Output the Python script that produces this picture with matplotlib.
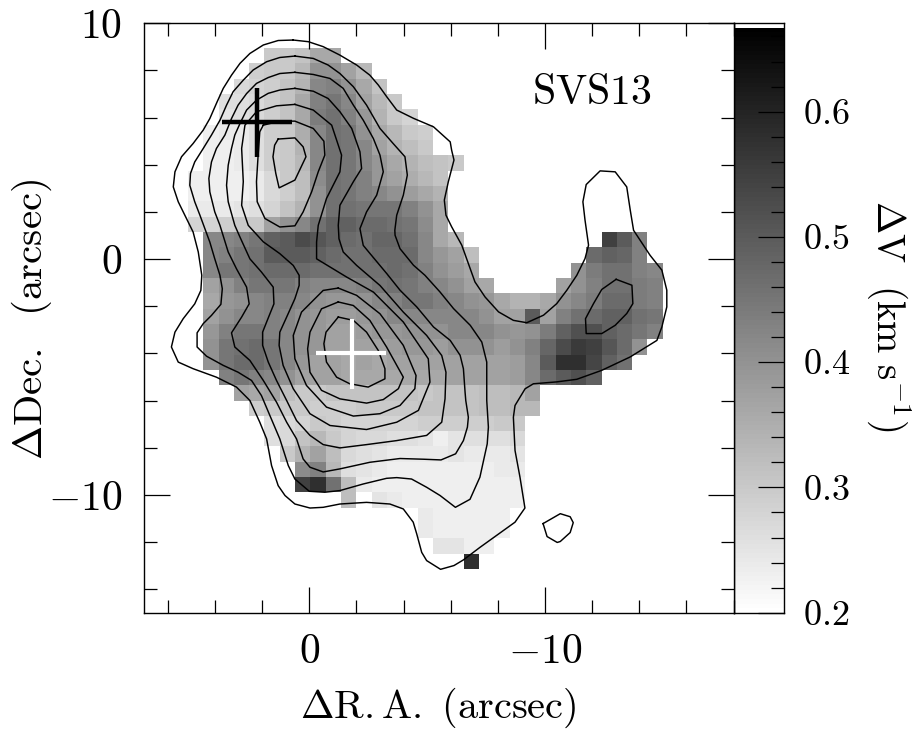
import numpy as np
import matplotlib
matplotlib.use("Agg")
import matplotlib.pyplot as plt
from matplotlib.ticker import MultipleLocator, FixedLocator, FuncFormatter

plt.rcParams['mathtext.fontset'] = 'cm'
plt.rcParams['font.family'] = ['cmr10', 'DejaVu Sans']
plt.rcParams['axes.formatter.use_mathtext'] = True

# Line width map: dV in hundredths of km/s, 0 = no data. (first column, values)
RA_FIRST_EDGE = 5.15
DEC_FIRST_EDGE = 8.95
CELL = 0.65
N_COLS = 31
dv_rows = [
    (5, [30,30,31,36,36]),
    (4, [29,30,30,33,40,40,37,33]),
    (3, [27,28,29,31,34,42,43,40,36,31]),
    (2, [26,26,27,29,31,36,43,45,42,37,33,30]),
    (2, [25,26,27,29,31,36,44,46,43,39,34,30,28]),
    (1, [23,24,24,26,29,30,35,42,46,45,40,36,33,30,29]),
    (1, [23,23,24,26,29,30,34,42,46,45,42,37,34,32,30]),
    (1, [23,23,24,26,29,30,33,42,46,45,42,39,36,34,32,31,30]),
    (0, [23,23,23,23,24,27,30,32,41,46,45,43,39,37,35,33,31]),
    (0, [23,23,23,23,24,27,29,32,40,46,45,43,42,40,38,36,34]),
    (0, [24,24,24,25,26,28,31,34,40,46,46,45,45,45,43,40,36]),
    (0, [28,28,29,30,30,37,40,42,46,49,49,47,47,46,45,41,36]),
    (1, [42,42,43,45,49,50,53,51,49,47,46,48,48,46,42,36,33,0,0,0,0,0,0,0,0,0,55,50,43]),
    (1, [42,43,45,46,50,50,50,49,47,46,46,47,47,47,42,39,37,32,0,0,0,0,0,0,0,47,49,48,43]),
    (1, [42,45,45,46,47,47,47,46,46,46,46,46,47,46,43,40,38,36,0,0,0,0,0,0,40,44,46,46,43,42]),
    (1, [37,40,43,45,45,45,43,42,42,42,43,45,46,45,43,42,40,37,36,0,0,0,0,37,40,43,46,46,44,43]),
    (1, [36,39,40,42,43,43,42,40,39,39,40,42,43,45,45,43,42,40,39,36,34,34,36,40,42,44,47,47,44,43]),
    (1, [37,40,42,42,43,42,40,39,38,38,39,40,42,42,42,42,42,42,40,37,37,50,37,43,46,47,49,49,46,45]),
    (1, [39,43,45,45,43,42,40,39,37,37,38,39,39,40,40,40,42,42,42,40,39,40,44,49,52,52,49,47,45,43]),
    (1, [40,45,46,47,45,42,40,39,37,37,37,37,38,39,39,38,40,40,40,38,40,43,48,53,56,55,51,47,40]),
    (1, [40,45,47,47,45,42,39,37,37,36,37,36,37,37,37,37,37,37,37,37,38,42,50,58,58,54,49,46]),
    (2, [43,45,43,42,40,37,37,37,36,36,36,36,36,36,36,37,37,37,37,38,42,47,50,52,49]),
    (3, [37,36,37,32,30,30,31,31,31,31,31,31,30,31,31,31,32,32,33,37]),
    (4, [29,30,30,30,29,29,29,30,30,30,30,31,31,31,31,32,32,33,33]),
    (5, [26,27,28,30,29,28,28,28,28,28,29,29,29,29,29,30,30]),
    (5, [26,27,31,33,30,28,27,27,26,26,25,23,25,26,26,26,27]),
    (6, [30,34,37,32,27,26,25,24,24,24,24,25,24,24,24,25]),
    (7, [41,43,33,26,25,24,23,23,23,23,23,23,23,24,24]),
    (7, [55,58,46,32,24,23,23,23,23,23,23,23,23,23,23]),
    (10, [32,0,25,24,23,23,23,23,23,23,23,23]),
    (15, [24,23,23,23,23,23]),
    (15, [24,23,23,23,23,23]),
    (16, [25,25,23,23]),
    (18, [58]),
]

contour_a_ra = [0.68,1.32,1.95,2.52,2.94,3.30,3.65,3.91,4.22,4.50,4.93,5.42,5.70,5.77,5.56,5.28,4.93,4.71,4.56,4.60,4.86,5.35,5.70,5.85,5.56,4.93,3.94,3.09,2.52,2.10,1.81,1.60,1.32,1.03,0.61,-0.03,-0.59,-1.30,-2.43,-3.42,-3.99,-4.41,-4.56,-4.77,-4.98,-5.57,-6.14,-6.54,-7.24,-8.73,-9.15,-8.94,-8.73,-8.66,-8.73,-9.16,-9.51,-10.50,-11.35,-12.41,-13.62,-14.75,-14.96,-15.17,-15.17,-14.96,-14.46,-13.76,-13.62,-13.47,-12.98,-12.34,-11.75,-11.61,-11.70,-11.85,-11.70,-11.35,-10.93,-10.50,-9.94,-9.23,-8.66,-8.03,-7.46,-7.03,-6.75,-6.47,-6.04,-5.80,-5.73,-5.90,-6.14,-6.04,-5.98,-5.27,-4.42,-3.71,-3.29,-2.93,-2.57,-2.01,-1.30,-0.59,0.04]
contour_a_dec = [9.29,9.27,9.08,8.72,8.30,7.80,7.24,6.67,5.96,5.47,4.90,4.34,3.70,3.06,2.43,1.86,1.15,0.30,-0.69,-1.33,-1.90,-2.53,-3.10,-3.73,-4.37,-4.65,-5.01,-5.43,-6.00,-6.92,-7.63,-8.76,-9.61,-10.03,-10.39,-10.56,-10.53,-10.39,-10.32,-10.39,-10.60,-11.16,-11.66,-12.44,-12.79,-13.16,-13.00,-12.76,-12.23,-11.16,-10.56,-9.25,-8.12,-6.71,-6.21,-5.50,-5.29,-5.21,-5.10,-4.72,-4.15,-3.45,-2.88,-2.03,-1.32,-0.47,0.16,1.22,2.07,3.06,3.70,3.74,3.16,2.43,1.65,0.59,0.02,-0.69,-1.32,-1.89,-2.38,-2.70,-2.60,-2.24,-1.61,-0.97,-0.19,0.59,1.37,1.86,2.50,3.28,4.20,4.62,4.97,5.61,5.97,6.32,6.88,7.38,7.80,8.23,8.65,9.01,9.22]

contour_b_ra = [-9.92,-10.65,-11.07,-11.20,-11.07,-10.65,-10.52,-10.09]
contour_b_dec = [-11.22,-10.80,-10.93,-11.18,-11.60,-11.98,-12.02,-11.77]

contour_c_ra = [-13.02,-13.69,-13.73,-13.47,-12.98,-12.41,-11.75,-11.72,-12.06,-12.41]
contour_c_dec = [-0.86,-1.11,-1.89,-2.31,-2.81,-3.16,-3.16,-2.53,-1.89,-1.29]

contour_d_ra = [0.61,1.25,1.81,2.38,2.80,3.23,3.51,3.79,4.15,4.50,4.86,5.04,5.07,4.86,4.64,4.43,4.22,4.01,3.79,3.69,3.75,4.15,4.50,4.76,4.76,4.36,3.65,3.02,2.45,2.03,1.67,1.25,0.89,0.61,0.0,-0.66,-1.30,-2.29,-3.28,-3.71,-4.34,-4.98,-5.55,-6.20,-6.82,-7.24,-7.55,-7.60,-7.53,-7.53,-7.32,-6.83,-6.12,-5.55,-4.91,-4.42,-3.85,-3.64,-3.63,-3.71,-3.99,-4.16,-4.06,-3.56,-3.00,-2.43,-1.87,-1.30,-0.80,-0.17]
contour_d_dec = [8.61,8.55,8.37,8.02,7.59,7.10,6.53,5.89,5.26,4.69,4.12,3.63,3.13,2.43,1.86,1.29,0.72,0.01,-0.69,-1.26,-1.92,-2.39,-2.74,-3.13,-3.73,-4.12,-4.51,-4.80,-5.15,-5.79,-6.64,-7.63,-8.76,-9.33,-9.85,-9.89,-9.82,-9.54,-9.30,-9.27,-9.33,-9.68,-10.03,-10.53,-10.19,-9.25,-7.84,-7.13,-6.00,-4.37,-3.52,-2.81,-2.10,-1.40,-0.69,-0.26,0.44,1.01,1.22,1.86,2.71,3.56,4.34,4.90,5.54,6.53,7.31,7.87,8.23,8.51]

contour_e_ra = [0.61,1.25,1.74,2.24,2.66,3.02,3.30,3.58,3.94,4.15,4.26,4.22,4.01,3.79,3.44,3.09,2.66,2.55,2.87,3.30,3.16,2.52,1.95,1.39,0.96,0.54,0.26,-0.03,-0.59,-1.30,-2.57,-3.85,-4.84,-5.59,-6.21,-6.54,-6.71,-6.75,-6.64,-6.61,-6.54,-6.40,-5.98,-5.27,-4.56,-3.85,-3.29,-2.58,-2.29,-2.15,-2.43,-2.86,-3.14,-3.00,-2.72,-2.29,-1.87,-1.44,-0.88,-0.17]
contour_e_dec = [7.92,7.87,7.70,7.45,7.02,6.53,5.96,5.26,4.69,4.12,3.42,2.85,2.00,1.43,0.30,-0.41,-1.19,-1.90,-2.46,-3.13,-3.73,-4.30,-5.15,-6.07,-6.92,-7.63,-8.48,-8.83,-9.03,-8.90,-8.62,-8.46,-8.49,-8.52,-8.26,-7.70,-7.13,-6.71,-6.00,-5.64,-4.65,-4.08,-3.45,-2.88,-2.03,-1.32,-0.62,0.23,0.58,1.29,2.00,2.71,3.70,4.41,5.11,5.89,6.53,7.24,7.66,7.83]

contour_f_ra = [0.61,1.25,1.74,2.24,2.66,2.94,3.16,3.30,3.44,3.51,3.44,3.16,2.94,2.52,2.03,1.53,1.50,1.81,1.98,1.98,1.74,1.39,0.96,0.54,-0.03,-0.59,-1.30,-2.43,-3.71,-4.98,-5.62,-5.76,-5.80,-5.62,-4.98,-3.99,-3.00,-2.01,-1.44,-1.26,-1.23,-1.30,-1.87,-2.22,-2.15,-1.80,-1.30,-0.80,-0.17]
contour_f_dec = [7.24,7.17,7.03,6.74,6.32,5.75,5.26,4.69,3.98,3.13,2.43,1.43,0.93,0.01,-0.55,-1.19,-1.90,-2.67,-3.10,-3.66,-4.37,-5.15,-6.00,-6.85,-7.48,-7.87,-8.01,-7.87,-7.70,-7.48,-6.92,-5.93,-4.80,-4.09,-3.24,-2.25,-1.12,-0.27,0.30,0.86,1.43,2.28,3.28,3.84,4.55,5.54,6.25,6.81,7.12]

contour_g_ra = [0.61,1.39,2.24,2.73,2.87,2.80,2.87,2.59,1.95,1.25,0.68,0.43,0.43,0.61,0.96,1.25,1.28,1.11,0.68,-0.03,-0.88,-2.43,-3.71,-4.63,-5.12,-5.05,-3.99,-2.72,-1.58,-0.31,-0.31,-0.38,-0.73,-1.30,-1.37,-0.95,-0.17]
contour_g_dec = [6.56,6.50,6.25,5.68,4.69,3.28,2.28,1.43,0.73,0.23,-0.27,-0.69,-1.12,-1.68,-2.46,-3.10,-3.66,-4.51,-5.50,-6.56,-7.06,-7.23,-6.92,-6.42,-5.22,-4.23,-2.67,-1.40,-0.76,0.01,0.72,1.43,2.57,3.70,4.41,5.68,6.32]

contour_h_ra = [-1.23,-2.01,-3.00,-3.99,-4.53,-4.48,-3.85,-3.00,-1.87,-0.73,0.12,0.61,0.68,0.33,-0.59]
contour_h_dec = [-1.23,-1.54,-2.32,-3.66,-4.94,-5.50,-6.21,-6.56,-6.66,-6.28,-5.36,-4.23,-3.24,-2.25,-1.33]

contour_i_ra = [-1.23,-1.87,-2.57,-3.28,-3.99,-3.78,-3.14,-2.43,-1.30,-0.52,-0.03,0.07,-0.03,-0.52]
contour_i_dec = [-1.82,-1.97,-2.60,-3.73,-5.01,-5.50,-5.96,-6.11,-5.93,-5.57,-4.80,-3.81,-3.10,-2.11]

contour_j_ra = [-1.23,-1.87,-2.43,-2.93,-3.21,-3.21,-2.50,-1.72,-1.16,-0.73,-0.62,-0.71]
contour_j_dec = [-2.46,-2.60,-3.10,-3.88,-4.65,-5.08,-5.43,-5.29,-5.01,-4.37,-3.59,-3.10]

contour_k_ra = [1.95,1.25,0.61,-0.17,-0.62,-0.66,-0.38,-0.10,0.26,0.61,1.25,1.88,2.21,2.24,2.17,2.10]
contour_k_dec = [5.68,5.85,5.85,5.54,5.00,4.41,3.70,2.85,2.00,1.41,1.36,1.72,2.43,3.28,4.41,5.40]

contour_l_ra = [1.32,0.61,0.26,0.14,0.61,1.28,1.42,1.54,1.47]
contour_l_dec = [5.09,5.14,4.76,4.34,3.35,3.02,3.63,4.34,4.83]

contours = [
    (contour_a_ra, contour_a_dec), (contour_b_ra, contour_b_dec),
    (contour_c_ra, contour_c_dec), (contour_d_ra, contour_d_dec),
    (contour_e_ra, contour_e_dec), (contour_f_ra, contour_f_dec),
    (contour_g_ra, contour_g_dec), (contour_h_ra, contour_h_dec),
    (contour_i_ra, contour_i_dec), (contour_j_ra, contour_j_dec),
    (contour_k_ra, contour_k_dec), (contour_l_ra, contour_l_dec),
]

# Crosses: (RA min, RA max), (Dec min, Dec max), centre
black_cross_ra = [3.69, 0.75]
black_cross_dec = [7.24, 4.31]
black_cross_centre = (2.20, 5.82)
white_cross_ra = [-0.28, -3.25]
white_cross_dec = [-2.56, -5.50]
white_cross_centre = (-1.82, -3.99)

x_major = [0, -10]
y_major = [-10, 0, 10]
cbar_labels = [0.2, 0.3, 0.4, 0.5, 0.6]
VMIN, VMAX = 0.2, 0.667

W, H = 921, 734
fig = plt.figure(figsize=(W / 100, H / 100), dpi=100)


def frac(l, t, r, b):
    return [l / W, 1 - b / H, (r - l) / W, (b - t) / H]


ax = fig.add_axes(frac(144.3, 23.3, 733.5, 612.7))
cax = fig.add_axes(frac(733.5, 23.3, 784.0, 612.7))

# image
grid = np.full((len(dv_rows), N_COLS), np.nan)
for r, (start, vals) in enumerate(dv_rows):
    for c, v in enumerate(vals):
        if v:
            grid[r, start + c] = v / 100.0
masked = np.ma.masked_invalid(grid)
ra_edges = RA_FIRST_EDGE - CELL * np.arange(N_COLS + 1)
dec_edges = DEC_FIRST_EDGE - CELL * np.arange(len(dv_rows) + 1)
ax.pcolormesh(ra_edges, dec_edges, masked, cmap='gray_r', vmin=VMIN, vmax=VMAX,
              shading='flat', linewidth=0, rasterized=True, zorder=1)

for ra, dec in contours:
    ax.plot(ra + ra[:1], dec + dec[:1], color='black', lw=1.05, zorder=3,
            solid_joinstyle='round')

ax.plot(black_cross_ra, [black_cross_centre[1]] * 2, color='black', lw=3.2, zorder=4,
        solid_capstyle='butt')
ax.plot([black_cross_centre[0]] * 2, black_cross_dec, color='black', lw=3.2, zorder=4,
        solid_capstyle='butt')
ax.plot(white_cross_ra, [white_cross_centre[1]] * 2, color='white', lw=3.0, zorder=4,
        solid_capstyle='butt')
ax.plot([white_cross_centre[0]] * 2, white_cross_dec, color='white', lw=3.0, zorder=4,
        solid_capstyle='butt')

ax.set_xlim(7.0, -18.0)
ax.set_ylim(-15.0, 10.0)
ax.xaxis.set_major_locator(FixedLocator(x_major))
ax.yaxis.set_major_locator(FixedLocator(y_major))
ax.xaxis.set_minor_locator(MultipleLocator(2))
ax.yaxis.set_minor_locator(MultipleLocator(2))


def label(v, _):
    return r'$%d$' % v if v >= 0 else r'$-%d$' % abs(v)


ax.xaxis.set_major_formatter(FuncFormatter(label))
ax.yaxis.set_major_formatter(FuncFormatter(label))
ax.tick_params(which='both', direction='in', top=True, right=True, width=0.9, color='black')
ax.tick_params(which='major', length=18.5, labelsize=30, pad=15)
ax.tick_params(which='minor', length=9.5)
ax.tick_params(axis='y', which='major', pad=16)
ax.tick_params(axis='x', which='major', pad=15)
for s in ax.spines.values():
    s.set_linewidth(1.0)
ax.set_zorder(3)

ax.text(591.5 / W, 1 - 93 / H, r'$\mathrm{SVS13}$', transform=fig.transFigure, fontsize=30,
        ha='center', va='center', zorder=6)
fig.text(438.5 / W, 1 - 708 / H, r'$\mathrm{\Delta R{.}A{.}\ (arcsec)}$', fontsize=29,
         ha='center', va='center')
fig.text(32 / W, 1 - 319 / H, r'$\mathrm{\Delta Dec{.}\ \ (arcsec)}$', fontsize=29.5,
         ha='center', va='center', rotation=90)
fig.text(889 / W, 1 - 316 / H, r'$\mathrm{\Delta V\ \ (km\ s^{-1})}$', fontsize=28,
         ha='center', va='center', rotation=270)

# colour bar
levels = np.linspace(VMIN, VMAX, 128)
cax.pcolormesh([0, 1], np.linspace(VMIN, VMAX, 129), levels[:, None], cmap='gray_r',
               vmin=VMIN, vmax=VMAX, shading='flat', linewidth=0, rasterized=True)
cax.set_xlim(0, 1)
cax.set_ylim(0.2, 0.6705)
cax.xaxis.set_visible(False)
cax.yaxis.tick_right()
cax.yaxis.set_major_locator(FixedLocator(cbar_labels))
cax.yaxis.set_minor_locator(MultipleLocator(0.02))
cax.yaxis.set_major_formatter(FuncFormatter(lambda v, _: r'$%.1f$' % v))
cax.tick_params(which='both', direction='in', width=0.9, color='black')
cax.tick_params(which='major', length=18.5, labelsize=26, pad=13.5)
cax.tick_params(which='minor', length=9.5)
for s in cax.spines.values():
    s.set_linewidth(1.0)

fig.savefig('out.png', dpi=100, facecolor='white')
